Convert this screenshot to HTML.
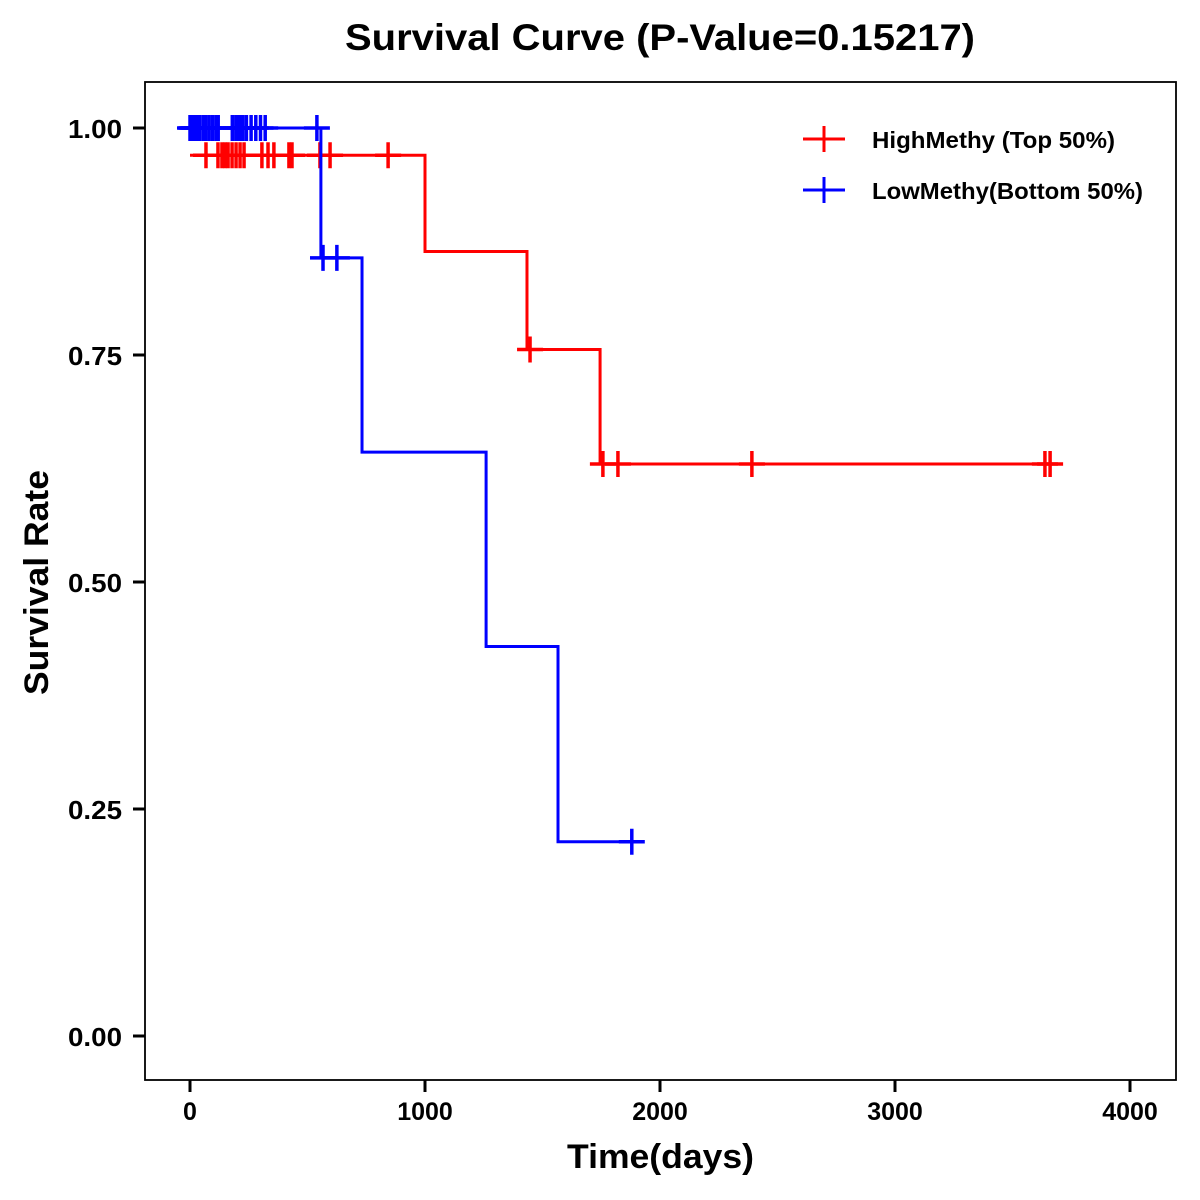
<!DOCTYPE html>
<html><head><meta charset="utf-8"><style>
html,body{margin:0;padding:0;background:#fff;}
svg{display:block;font-family:"Liberation Sans",Arial,sans-serif;}
</style></head><body>
<svg id="chart" width="1200" height="1200">
<rect x="0" y="0" width="1200" height="1200" fill="#fff"/>
<text x="345" y="50" font-size="37" font-weight="bold" textLength="630" lengthAdjust="spacingAndGlyphs">Survival Curve (P-Value=0.15217)</text>
<rect x="145" y="82" width="1031" height="998" fill="none" stroke="#000" stroke-width="1.8"/>
<text x="567" y="1168" font-size="34" font-weight="bold" textLength="187" lengthAdjust="spacingAndGlyphs">Time(days)</text>
<text transform="translate(48,695) rotate(-90)" font-size="34" font-weight="bold" textLength="225" lengthAdjust="spacingAndGlyphs">Survival Rate</text>
<g id="axes"></g>
<g id="series"></g>
<g>
<g>
<line x1="803" y1="139" x2="845" y2="139" stroke="#ff0000" stroke-width="3"/>
<line x1="824" y1="126" x2="824" y2="152" stroke="#ff0000" stroke-width="3"/>
<text x="872" y="148" font-size="23" font-weight="bold" textLength="243" lengthAdjust="spacingAndGlyphs">HighMethy (Top 50%)</text></g>
<g>
<line x1="803" y1="190" x2="845" y2="190" stroke="#0000ff" stroke-width="3"/>
<line x1="824" y1="177" x2="824" y2="203" stroke="#0000ff" stroke-width="3"/>
<text x="872" y="199" font-size="23" font-weight="bold" textLength="271" lengthAdjust="spacingAndGlyphs">LowMethy(Bottom 50%)</text></g>
</g>
</svg>
<script>
const xTicks=[0,1000,2000,3000,4000];
const yTicks=[0,0.25,0.5,0.75,1];
const yTickLabels=["0.00","0.25","0.50","0.75","1.00"];
const highTimes=[0,1000,1434,1745,3660];
const highSurv=[0.97,0.864,0.756,0.630,0.630];
const highCensor=[68,119,136,149,162,179,196,213,230,306,332,357,421,434,553,596,843,1447,1757,1821,2391,3638,3660];
const lowTimes=[0,557,732,1260,1566,1880];
const lowSurv=[1,0.857,0.643,0.429,0.214,0.214];
const lowCensor=[0,5,10,15,20,30,40,55,65,80,95,110,120,180,195,205,215,225,240,260,280,300,320,540,566,625,1880];

const X=t=>190+t*0.235;
const Y=s=>1036-s*908;
const NS="http://www.w3.org/2000/svg";
function mk(tag,attrs,parent){const e=document.createElementNS(NS,tag);for(const k in attrs)e.setAttribute(k,attrs[k]);parent.appendChild(e);return e;}
const axes=document.getElementById('axes');
xTicks.forEach(t=>{
 const l=mk('line',{x1:X(t),x2:X(t),y1:1080,y2:1092,stroke:'#000','stroke-width':3},axes);
 
 
 const tx=mk('text',{x:X(t),y:1120,'text-anchor':'middle','font-size':25,'font-weight':'bold'},axes);
 tx.textContent=t;
 
 
});
yTicks.forEach((v,i)=>{
 const l=mk('line',{x1:133,x2:145,y1:Y(v),y2:Y(v),stroke:'#000','stroke-width':3},axes);
 
 
 const tx=mk('text',{x:68,y:Y(v)+10,'font-size':26,'font-weight':'bold',textLength:54,lengthAdjust:'spacingAndGlyphs'},axes);
 tx.textContent=yTickLabels[i];
 
 
});
function survAt(times,surv,t){let s=surv[0];for(let i=0;i<times.length;i++){if(t>=times[i])s=surv[i];}return s;}
function drawSeries(times,surv,cens,color,name){
 const g=mk('g',{},document.getElementById('series'));
 
 
 let d='M'+X(times[0])+','+Y(surv[0]);
 for(let i=1;i<times.length;i++){d+=' H'+X(times[i])+' V'+Y(surv[i]);}
 const p=mk('path',{d:d,fill:'none',stroke:color,'stroke-width':3},g);
 
 
 cens.forEach(t=>{
  const s=survAt(times,surv,t);
  const m=mk('path',{d:'M'+(X(t)-13)+','+Y(s)+' H'+(X(t)+13)+' M'+X(t)+','+(Y(s)-13)+' V'+(Y(s)+13),stroke:color,'stroke-width':3.5,fill:'none'},g);
  
  
 });
}
drawSeries(highTimes,highSurv,highCensor,'#ff0000','high-methy');
drawSeries(lowTimes,lowSurv,lowCensor,'#0000ff','low-methy');
</script>
</body></html>
